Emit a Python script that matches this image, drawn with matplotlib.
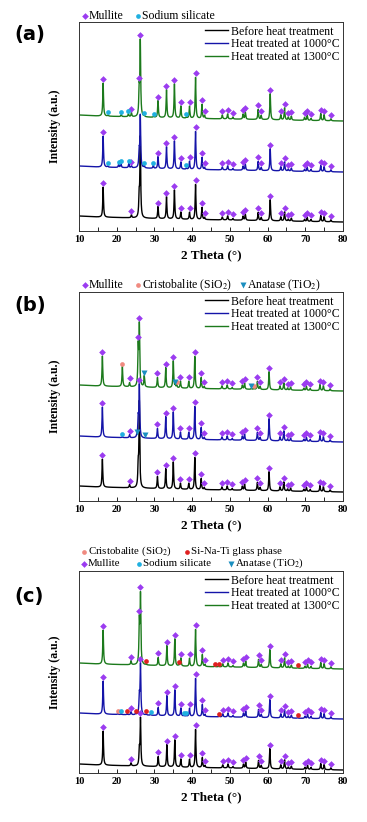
import numpy as np
import matplotlib.pyplot as plt
from matplotlib.lines import Line2D

plt.rcParams['font.family'] = ['Liberation Serif', 'DejaVu Serif']
plt.rcParams['mathtext.fontset'] = 'stix'

W, H = 367, 822

# common background shape (decays towards high angle)
bg_x = [10, 15, 20, 30, 40, 50, 60, 70, 80]
bg_shape = [6, 5, 4.5, 3.5, 2.5, 2, 1.3, 0.6, 0]

# mullite reflections (2 theta) for each panel
mul_a = [16.4, 23.9, 25.95, 26.25, 30.95, 33.2, 35.3, 37.0, 39.3, 40.9, 42.6, 43.3, 48.0, 49.4, 50.8,
         53.5, 54.1, 57.5, 58.3, 60.7, 63.5, 64.5, 65.5, 66.3, 69.8, 70.5, 71.5, 74.1, 75.0, 76.8]
mul_b = [16.2, 23.4, 25.7, 26.0, 30.8, 33.0, 35.0, 36.9, 39.1, 40.7, 42.4, 43.2, 47.9, 49.3, 50.6,
         53.3, 53.9, 57.3, 58.0, 60.4, 63.3, 64.3, 65.3, 66.1, 69.6, 70.3, 71.3, 73.9, 74.8, 76.6]
mul_c = [16.4, 23.8, 26.0, 26.3, 31.0, 33.3, 35.4, 37.0, 39.3, 40.9, 42.7, 43.4, 48.1, 49.5, 50.8,
         53.6, 54.2, 57.6, 58.3, 60.6, 63.5, 64.5, 65.5, 66.3, 69.9, 70.6, 71.5, 74.1, 75.0, 76.8]

# mullite peak heights (a.u.)
a_black = [30, 3, 20, 80, 12, 22, 29, 7, 7, 35, 12, 2, 3, 4, 1.5, 4, 6, 8, 3, 21, 4, 9, 2, 3, 2, 4, 2, 6, 5, 2]
a_blue = [31, 2, 15, 52, 12, 22, 28, 7, 8, 38, 12, 2, 3, 4, 1.5, 4, 6, 9, 3, 22, 4, 9, 2, 3, 2, 4, 2, 6, 5, 2]
a_green = [33, 4, 25, 75, 17, 28, 34, 12, 12, 41, 14, 3, 4, 5, 2, 5, 7, 10, 4, 26, 5, 12, 3, 4, 3, 5, 2, 7, 6, 2]
b_black = [28, 3, 20, 85, 12, 20, 27, 6, 6, 32, 11, 2, 3, 4, 1.5, 4, 6, 8, 3, 19, 4, 9, 2, 3, 2, 4, 2, 6, 5, 2]
b_blue = [30, 3, 18, 52, 10, 22, 27, 7, 7, 33, 12, 2, 3, 4, 1.5, 4, 6, 8, 3, 22, 4, 10, 2, 3, 2, 4, 2, 6, 5, 2]
b_green = [30, 4, 38, 60, 10, 20, 27, 7, 7, 32, 11, 2, 3, 4, 1.5, 4, 6, 8, 3, 18, 4, 7, 2, 3, 2, 4, 2, 6, 5, 2]
c_black = [34, 3, 15, 47, 10, 22, 27, 8, 8, 38, 10, 2, 3, 4, 1.5, 4, 6, 8, 3, 20, 4, 9, 2, 3, 2, 4, 2, 6, 5, 2]
c_blue = [33, 3, 18, 50, 8, 20, 26, 8, 8, 38, 12, 2, 3, 4, 1.5, 4, 6, 8, 3, 18, 4, 8, 2, 3, 2, 4, 2, 6, 5, 2]
c_green = [34, 4, 41, 68, 8, 20, 27, 8, 8, 37, 12, 2, 3, 4, 1.5, 4, 6, 8, 3, 18, 4, 10, 2, 3, 2, 4, 2, 6, 5, 2]

# mullite reflections left unmarked (index into the lists above), black / blue / green
skip_a = [[2, 3], [2, 3], []]
skip_b = [[2, 3], [2], []]
skip_c = [[2], [2], []]

# baseline level at 80 deg for black / blue / green
offs_a = [9, 59, 110]
offs_b = [9, 59, 110]
offs_c = [3, 54, 104]

# other phases: (positions, heights)
a_blue_sod = ([17.6, 20.5, 21.1, 23.2, 27.3, 29.7, 38.5], [1, 3, 4, 4, 2, 3, 1])
a_green_sod = ([17.7, 21.2, 23.1, 27.3, 29.8, 38.5], [1, 2, 3, 1, 1, 1])
b_green_cri = ([21.5, 35.9, 56.4], [20, 3, 1])
b_green_ana = ([27.3, 35.5, 55.7], [11, 2, 1])
b_blue_ana = ([25.3, 27.4], [1, 0])
b_blue_sod = ([21.5], [1])
c_green_gla = ([27.8, 36.5, 46.0, 47.0, 68.0], [1, 1, 0.5, 0.5, 0.5])
c_blue_gla = ([22.8, 25.0, 27.8, 47.2, 68.0], [1, 1, 1, 0.5, 0.5])
c_blue_cri = ([20.3], [1])
c_blue_sod = ([21.2, 29.0, 37.8, 38.4], [1, 1, 0.5, 0.5])

labels = ['Before heat treatment', 'Heat treated at 1000\u00b0C', 'Heat treated at 1300\u00b0C']
line_colors = ['#000000', '#1414a8', '#1c7a1c']

C_MUL = '#9b3cf0'
C_SOD = '#20b0e0'
C_CRI = '#f08a80'
C_GLA = '#e02020'
C_ANA = '#1a8fc0'
STY = {'mul': ('D', C_MUL, 3.4), 'sod': ('o', C_SOD, 3.4), 'cri': ('o', C_CRI, 3.4),
       'gla': ('o', C_GLA, 3.4), 'ana': ('v', C_ANA, 3.8)}

x = np.linspace(10, 80, 3501)


def profile(off, peaks):
    y = off + np.interp(x, bg_x, bg_shape)
    for p, h in peaks:
        y = y + h / (1 + ((x - p) / 0.12) ** 2)
    return y


panels = [
    dict(pos=(22, 231), mul=mul_a, h=[a_black, a_blue, a_green], offs=offs_a, skip=skip_a,
         extra=[[], [('sod', a_blue_sod)], [('sod', a_green_sod)]]),
    dict(pos=(292, 501), mul=mul_b, h=[b_black, b_blue, b_green], offs=offs_b, skip=skip_b,
         extra=[[], [('ana', b_blue_ana), ('sod', b_blue_sod)], [('cri', b_green_cri), ('ana', b_green_ana)]]),
    dict(pos=(571, 773), mul=mul_c, h=[c_black, c_blue, c_green], offs=offs_c, skip=skip_c,
         extra=[[], [('cri', c_blue_cri), ('gla', c_blue_gla), ('sod', c_blue_sod)], [('gla', c_green_gla)]]),
]

fig = plt.figure(figsize=(W / 100, H / 100), dpi=100)
L, R = 79, 343
for pn in panels:
    top, bot = pn['pos']
    ax = fig.add_axes([L / W, 1 - bot / H, (R - L) / W, (bot - top) / H])
    marks = []
    for i in range(3):
        peaks = list(zip(pn['mul'], pn['h'][i]))
        for key, (ps, hs) in pn['extra'][i]:
            peaks += list(zip(ps, hs))
        y = profile(pn['offs'][i], peaks)
        ax.plot(x, y, color=line_colors[i], lw=1.0, label=labels[i])
        for k, p in enumerate(pn['mul']):
            if k not in pn['skip'][i]:
                marks.append(('mul', p, np.interp(p, x, y) + 4))
        for key, (ps, hs) in pn['extra'][i]:
            for p in ps:
                marks.append((key, p, np.interp(p, x, y) + 2.5))
    for key, p, ym in marks:
        m, c, s = STY[key]
        ax.plot(p, ym, ls='none', marker=m, ms=s, color=c, mec='none', zorder=5)

    ax.set_xlim(10, 80)
    ax.set_ylim(0, bot - top)
    ax.set_yticks([])
    ax.set_xticks(range(10, 81, 10))
    ax.set_xticks(range(15, 80, 10), minor=True)
    ax.tick_params(axis='x', which='both', direction='in', length=3, width=0.6, labelsize=7.5, pad=3)
    for t in ax.get_xticklabels():
        t.set_fontweight('bold')
    for sp in ax.spines.values():
        sp.set_linewidth(0.7)
        sp.set_color('#333333')
    ax.set_xlabel('2 Theta (\u00b0)', fontsize=9.5, fontweight='bold', labelpad=4)
    ax.set_ylabel('Intensity (a.u.)', fontsize=8.5, fontweight='bold')
    ax.yaxis.set_label_coords(-0.07, 0.5)
    ax.legend(loc='upper right', frameon=False, fontsize=8.5, handlelength=1.95, handletextpad=0.2,
              labelspacing=0.05, borderaxespad=0.1, borderpad=0.2)


def key_row(y_px, items, size=8.5):
    for x_px, key, text in items:
        m, c, s = STY[key]
        fig.add_artist(Line2D([x_px / W], [1 - y_px / H], transform=fig.transFigure, ls='none',
                              marker=m, ms=s, color=c, mec='none'))
        fig.text((x_px + 4) / W, 1 - y_px / H, text, fontsize=size, ha='left', va='center')


key_row(16, [(85, 'mul', 'Mullite'), (138, 'sod', 'Sodium silicate')])
key_row(285, [(85, 'mul', 'Mullite'), (138, 'cri', 'Cristobalite (SiO$_2$)'), (243, 'ana', 'Anatase (TiO$_2$)')])
key_row(551.5, [(84, 'cri', 'Cristobalite (SiO$_2$)'), (187, 'gla', 'Si-Na-Ti glass phase')], size=7.8)
key_row(563.5, [(84, 'mul', 'Mullite'), (139, 'sod', 'Sodium silicate'), (231, 'ana', 'Anatase (TiO$_2$)')], size=7.8)

for lab, y_px in [('(a)', 34.5), ('(b)', 306), ('(c)', 596)]:
    fig.text(14 / W, 1 - y_px / H, lab, fontsize=14, fontweight='bold', family=['DejaVu Sans'],
             ha='left', va='center')

fig.savefig('out.png', dpi=100)
